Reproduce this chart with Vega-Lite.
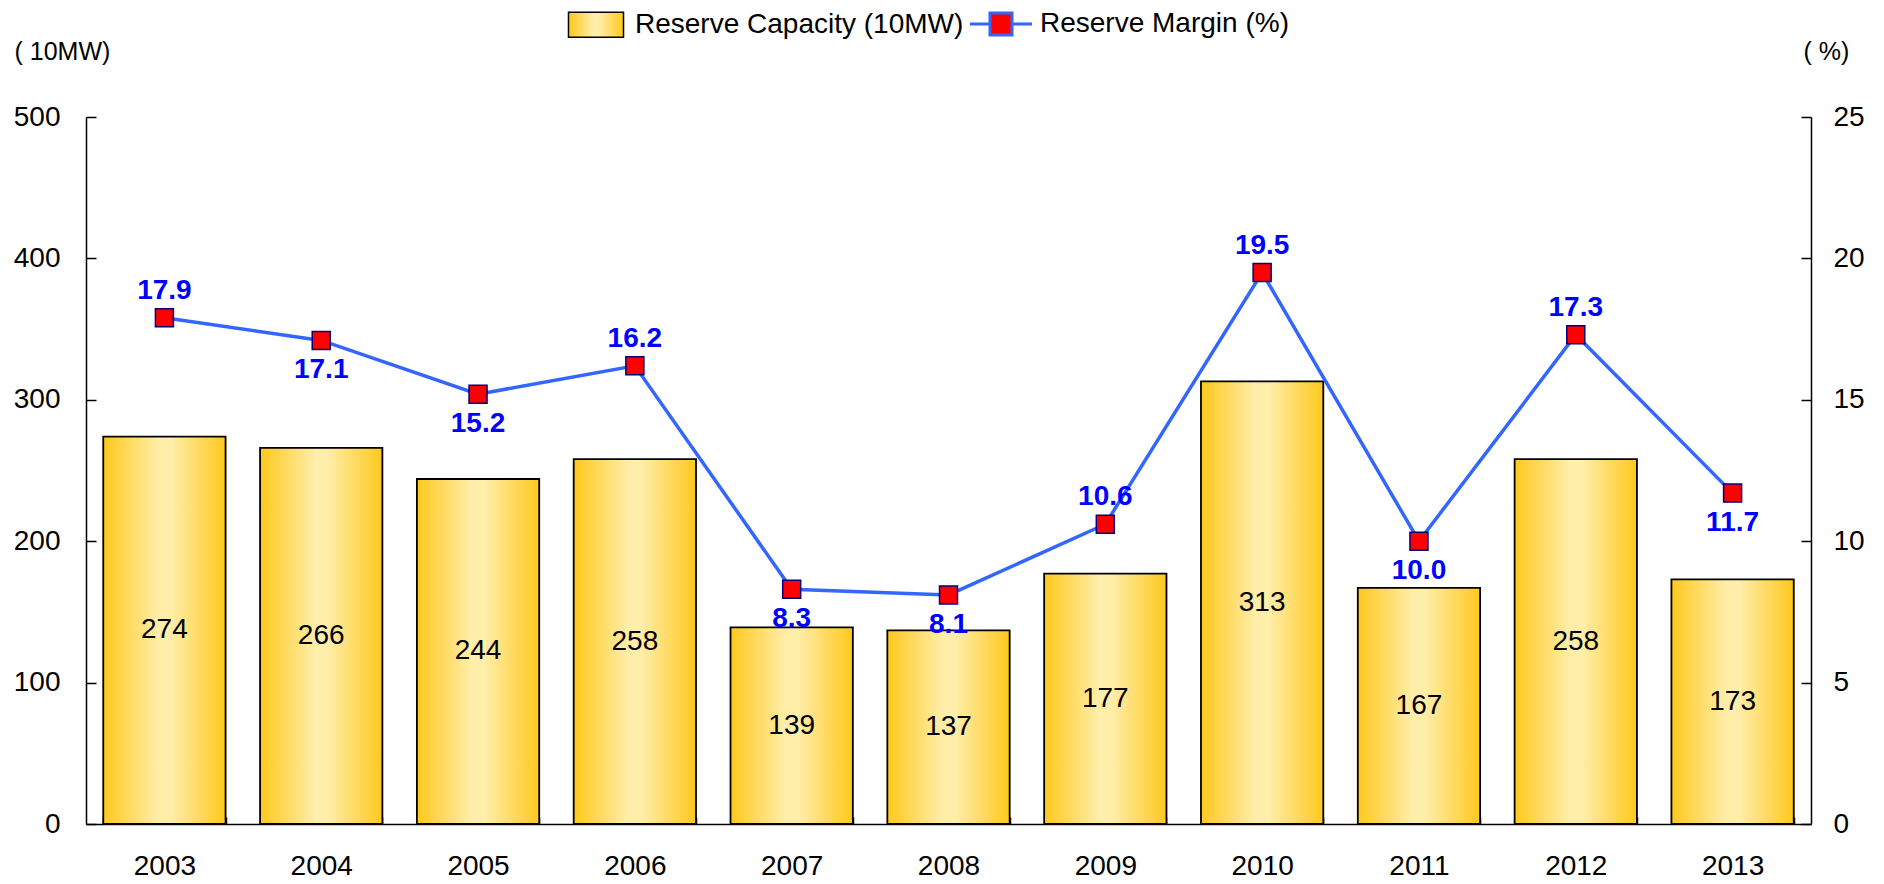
{
  "$schema": "https://vega.github.io/schema/vega-lite/v6.json",
  "width": 1725,
  "height": 707,
  "autosize": {"type": "none"},
  "padding": {"left": 86, "top": 117, "right": 73, "bottom": 60},
  "config": {
    "view": {"stroke": null},
    "font": "Liberation Sans",
    "axis": {
      "grid": false,
      "domainColor": "#000000",
      "tickColor": "#000000",
      "labelColor": "#000000",
      "labelFont": "Liberation Sans",
      "labelFontSize": 28,
      "domainWidth": 1.5,
      "tickWidth": 1.5
    }
  },
  "data": {
    "values": [
      {"year": 2003, "cap": 274, "margin": 17.9},
      {"year": 2004, "cap": 266, "margin": 17.1},
      {"year": 2005, "cap": 244, "margin": 15.2},
      {"year": 2006, "cap": 258, "margin": 16.2},
      {"year": 2007, "cap": 139, "margin": 8.3},
      {"year": 2008, "cap": 137, "margin": 8.1},
      {"year": 2009, "cap": 177, "margin": 10.6},
      {"year": 2010, "cap": 313, "margin": 19.5},
      {"year": 2011, "cap": 167, "margin": 10.0},
      {"year": 2012, "cap": 258, "margin": 17.3},
      {"year": 2013, "cap": 173, "margin": 11.7}
    ]
  },
  "resolve": {"scale": {"y": "independent"}},
  "layer": [
    {
      "mark": {
        "type": "bar",
        "fill": {
          "gradient": "linear", "x1": 0, "y1": 0, "x2": 1, "y2": 0,
          "stops": [
            {"offset": 0, "color": "#FFC81C"},
            {"offset": 0.45, "color": "#FFEEAA"},
            {"offset": 0.55, "color": "#FFEEAA"},
            {"offset": 1, "color": "#FFC81C"}
          ]
        },
        "strokeWidth": 1.8
      },
      "encoding": {
        "x": {
          "field": "year", "type": "ordinal",
          "scale": {"paddingInner": 0.22, "paddingOuter": 0.11},
          "axis": {"title": null, "labelAngle": 0, "tickBand": "extent", "tickSize": -7, "labelPadding": 35}
        },
        "y": {
          "field": "cap", "type": "quantitative",
          "scale": {"domain": [0, 500]},
          "axis": {
            "orient": "left", "values": [0, 100, 200, 300, 400, 500], "tickSize": -10, "labelPadding": 36,
            "title": "( 10MW)", "titleAngle": 0, "titleAlign": "left", "titleBaseline": "alphabetic",
            "titleX": -72, "titleY": -58, "titleFontSize": 25, "titleFontWeight": "normal", "titleColor": "#000000", "titleFont": "Liberation Sans"
          }
        },
        "stroke": {
          "datum": "Reserve Capacity (10MW)",
          "scale": {"domain": ["Reserve Capacity (10MW)", "Reserve Margin (%)"], "range": ["#000000", "#3366FF"]},
          "legend": {
            "orient": "none", "legendX": 496, "legendY": -107.5, "direction": "horizontal",
            "title": null, "labelFontSize": 28, "labelColor": "#000000", "labelFont": "Liberation Sans", "labelLimit": 0,
            "symbolSize": 3600, "labelOffset": 25, "columnPadding": 0, "padding": 0,
            "encode": {
              "symbols": {
                "update": {
                  "shape": {"signal": "datum.value === 'Reserve Capacity (10MW)' ? 'M-0.917,-0.417H0.917V0.417H-0.917Z' : 'M-1.033,0H-0.367M0.367,0H1.033M-0.367,-0.367H0.367V0.367H-0.367Z'"},
                  "fill": {"signal": "datum.value === 'Reserve Capacity (10MW)' ? {gradient: 'linear', x1: 0, y1: 0, x2: 1, y2: 0, stops: [{offset: 0, color: '#FFC81C'}, {offset: 0.45, color: '#FFEEAA'}, {offset: 0.55, color: '#FFEEAA'}, {offset: 1, color: '#FFC81C'}]} : '#FF0000'"},
                  "stroke": {"signal": "datum.value === 'Reserve Capacity (10MW)' ? '#000000' : '#3366FF'"},
                  "strokeWidth": {"signal": "datum.value === 'Reserve Capacity (10MW)' ? 1.5 : 3"},
                  "opacity": {"value": 1},
                  "fillOpacity": {"value": 1}
                }
              }
            }
          }
        }
      }
    },
    {
      "mark": {"type": "text", "fontSize": 28, "color": "#000000", "baseline": "middle", "font": "Liberation Sans"},
      "encoding": {
        "x": {"field": "year", "type": "ordinal"},
        "y": {"field": "cap", "type": "quantitative", "scale": {"domain": [0, 1000]}, "axis": null},
        "text": {"field": "cap", "type": "quantitative"}
      }
    },
    {
      "encoding": {
        "x": {"field": "year", "type": "ordinal"},
        "y": {
          "field": "margin", "type": "quantitative",
          "scale": {"domain": [0, 25]},
          "axis": {
            "orient": "right", "values": [0, 5, 10, 15, 20, 25], "tickSize": -10, "labelPadding": 32,
            "title": "( %)", "titleAngle": 0, "titleAlign": "left", "titleBaseline": "alphabetic",
            "titleX": -8, "titleY": -58, "titleFontSize": 25, "titleFontWeight": "normal", "titleColor": "#000000", "titleFont": "Liberation Sans"
          }
        }
      },
      "layer": [
        {
          "mark": {"type": "line", "strokeWidth": 3.5},
          "encoding": {
            "stroke": {
              "datum": "Reserve Margin (%)",
              "legend": {
                "orient": "none", "legendX": 496, "legendY": -107.5, "direction": "horizontal",
                "title": null, "labelFontSize": 28, "labelColor": "#000000", "labelFont": "Liberation Sans", "labelLimit": 0,
                "symbolSize": 3600, "labelOffset": 25, "columnPadding": 0, "padding": 0,
                "encode": {
                  "symbols": {
                    "update": {
                      "shape": {"signal": "datum.value === 'Reserve Capacity (10MW)' ? 'M-0.917,-0.417H0.917V0.417H-0.917Z' : 'M-1.033,0H-0.367M0.367,0H1.033M-0.367,-0.367H0.367V0.367H-0.367Z'"},
                      "fill": {"signal": "datum.value === 'Reserve Capacity (10MW)' ? {gradient: 'linear', x1: 0, y1: 0, x2: 1, y2: 0, stops: [{offset: 0, color: '#FFC81C'}, {offset: 0.45, color: '#FFEEAA'}, {offset: 0.55, color: '#FFEEAA'}, {offset: 1, color: '#FFC81C'}]} : '#FF0000'"},
                      "stroke": {"signal": "datum.value === 'Reserve Capacity (10MW)' ? '#000000' : '#3366FF'"},
                      "strokeWidth": {"signal": "datum.value === 'Reserve Capacity (10MW)' ? 1.5 : 3"},
                      "opacity": {"value": 1},
                      "fillOpacity": {"value": 1}
                    }
                  }
                }
              }
            }
          }
        },
        {
          "mark": {"type": "point", "shape": "square", "filled": true, "fill": "#FF0000", "stroke": "#000080", "strokeWidth": 1.5, "size": 324, "opacity": 1}
        },
        {
          "transform": [{"filter": {"field": "year", "oneOf": [2003, 2006, 2009, 2010, 2012]}}],
          "mark": {"type": "text", "fontSize": 28, "fontWeight": "bold", "color": "#0000FF", "baseline": "alphabetic", "dy": -19, "font": "Liberation Sans"},
          "encoding": {"text": {"field": "margin", "type": "quantitative", "format": ".1f"}}
        },
        {
          "transform": [{"filter": {"field": "year", "oneOf": [2004, 2005, 2007, 2008, 2011, 2013]}}],
          "mark": {"type": "text", "fontSize": 28, "fontWeight": "bold", "color": "#0000FF", "baseline": "alphabetic", "dy": 38, "font": "Liberation Sans"},
          "encoding": {"text": {"field": "margin", "type": "quantitative", "format": ".1f"}}
        }
      ]
    }
  ]
}
